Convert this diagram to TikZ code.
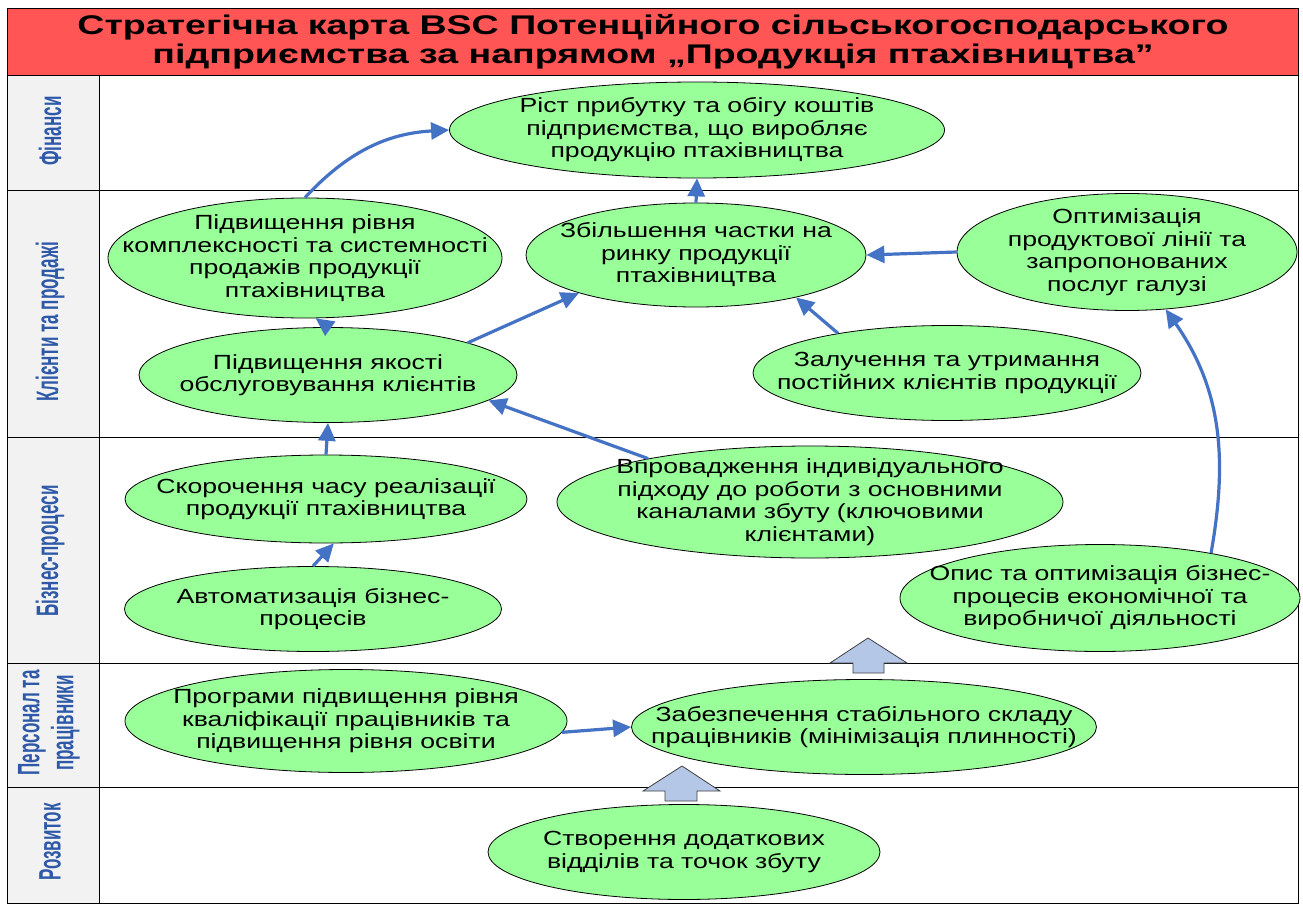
\documentclass[tikz,border=0pt]{standalone}
\usepackage{fontspec}
\setmainfont{Liberation Sans}
\newfontfamily\goalfont{Liberation Sans}[FakeStretch=1.3]
\newfontfamily\titlefont{Liberation Sans}[FakeStretch=1.39]
\newfontfamily\lanefont{Liberation Sans}[FakeStretch=0.55]
\usetikzlibrary{shapes.geometric,arrows.meta}
\definecolor{goalgreen}{RGB}{153,255,153}
\definecolor{titlered}{RGB}{255,85,85}
\definecolor{lanegrey}{RGB}{242,242,242}
\definecolor{lanetext}{RGB}{46,89,168}
\definecolor{linkblue}{RGB}{68,114,196}
\definecolor{blockblue}{RGB}{180,199,231}
\begin{document}
\begin{tikzpicture}[x=1pt,y=1pt,
	goal/.style 2 args={ellipse, draw=black, line width=0.8pt, fill=goalgreen, inner sep=0pt, minimum width=#1pt, minimum height=#2pt},
	goaltext/.style={align=center, inner sep=0pt, font=\goalfont\fontsize{20.5}{22.5}\selectfont},
	lane/.style={rotate=90, align=center, text=lanetext, font=\lanefont\bfseries\fontsize{31}{34}\selectfont},
	link/.style={draw=linkblue, line width=3.2pt, -{Triangle[length=18pt,width=17pt]}},
	blockarrow/.style={draw=black!75, line width=0.8pt, fill=blockblue}]
	\useasboundingbox (0,0) rectangle (1303,-904);
	% frame and lanes
	\draw[fill=titlered, line width=0.8pt] (7,-8) rectangle (1298,-75);
	\node[align=center, font=\titlefont\bfseries\fontsize{27}{29}\selectfont] (title) at (653,-42) {Стратегічна карта BSC Потенційного сільськогосподарського\\підприємства за напрямом „Продукція птахівництва”};
	\draw[fill=lanegrey, line width=0.8pt] (7,-75) rectangle (99,-903);
	\draw[line width=0.8pt] (7,-75) rectangle (1298,-903);
	\foreach \y in {190,437,663,787}
		\draw[line width=0.8pt] (7,-\y) -- (1298,-\y);
	\node[lane] (fin-l) at (50,-131) {Фінанси};
	\node[lane] (cust-l) at (50,-322) {Клієнти та продажі};
	\node[lane] (proc-l) at (50,-551) {Бізнес-процеси};
	\node[lane] (staff-l) at (49,-723) {Персонал та\\працівники};
	\node[lane] (dev-l) at (50,-842) {Розвиток};
	% goals
	\node[goal={495}{96}] (fin) at (697,-130) {};
	\node[goaltext] (fin-t) at (fin) {Ріст прибутку та обігу коштів\\підприємства, що виробляє\\продукцію птахівництва};
	\node[goal={394}{120}] (compl) at (305,-258) {};
	\node[goaltext] (compl-t) at (compl) {Підвищення рівня\\комплексності та системності\\продажів продукції\\птахівництва};
	\node[goal={340}{104}] (share) at (696,-255) {};
	\node[goaltext] (share-t) at (share) {Збільшення частки на\\ринку продукції\\птахівництва};
	\node[goal={340}{117}] (optim) at (1127,-252) {};
	\node[goaltext] (optim-t) at (optim) {Оптимізація\\продуктової лінії та\\запропонованих\\послуг галузі};
	\node[goal={378}{95}] (quality) at (328,-375) {};
	\node[goaltext] (quality-t) at (quality) {Підвищення якості\\обслуговування клієнтів};
	\node[goal={388}{95}] (retain) at (947,-373) {};
	\node[goaltext] (retain-t) at (retain) {Залучення та утримання\\постійних клієнтів продукції};
	\node[goal={402}{88}] (speed) at (326,-499) {};
	\node[goaltext] (speed-t) at (speed) {Скорочення часу реалізації\\продукції птахівництва};
	\node[goal={506}{112}] (indiv) at (810,-502) {};
	\node[goaltext] (indiv-t) at (indiv) {Впровадження індивідуального\\підходу до роботи з основними\\каналами збуту (ключовими\\клієнтами)};
	\node[goal={377}{85}] (auto) at (313,-609) {};
	\node[goaltext] (auto-t) at (auto) {Автоматизація бізнес-\\процесів};
	\node[goal={400}{107}] (descr) at (1100,-598) {};
	\node[goaltext] (descr-t) at (descr) {Опис та оптимізація бізнес-\\процесів економічної та\\виробничої діяльності};
	\node[goal={442}{103}] (train) at (346,-721) {};
	\node[goaltext] (train-t) at (train) {Програми підвищення рівня\\кваліфікації працівників та\\підвищення рівня освіти};
	\node[goal={465}{95}] (stable) at (864,-727) {};
	\node[goaltext] (stable-t) at (stable) {Забезпечення стабільного складу\\працівників (мінімізація плинності)};
	\node[goal={392}{95}] (expand) at (684,-852) {};
	\node[goaltext] (expand-t) at (expand) {Створення додаткових\\відділів та точок збуту};
	% links
	\draw[link] (compl.north) to[bend left=22] (fin.west);
	\draw[link] (share.north) -- (fin.south);
	\draw[link] (optim.west) -- (share.east);
	\draw[link] (quality.north) -- (compl.-80);
	\draw[link] (quality.13) -- (share.198);
	\draw[link] (retain.160) -- (share.-23);
	\draw[link] (speed.north) -- (quality.south);
	\draw[link] (indiv.165) -- (quality.-9);
	\draw[link] (auto.north) -- (speed.-80);
	\draw[link] (descr.22) to[out=80,in=-55] (optim.-56);
	\draw[link] (train.-3) -- (stable.west);
	% block arrows between lanes
	\draw[blockarrow] (868,-638) -- (907,-663) -- (884,-663) -- (884,-673) -- (853,-673) -- (853,-663) -- (830,-663) -- cycle;
	\draw[blockarrow] (682,-766) -- (720,-791) -- (697,-791) -- (697,-801) -- (665,-801) -- (665,-791) -- (643,-791) -- cycle;
\end{tikzpicture}
\end{document}
